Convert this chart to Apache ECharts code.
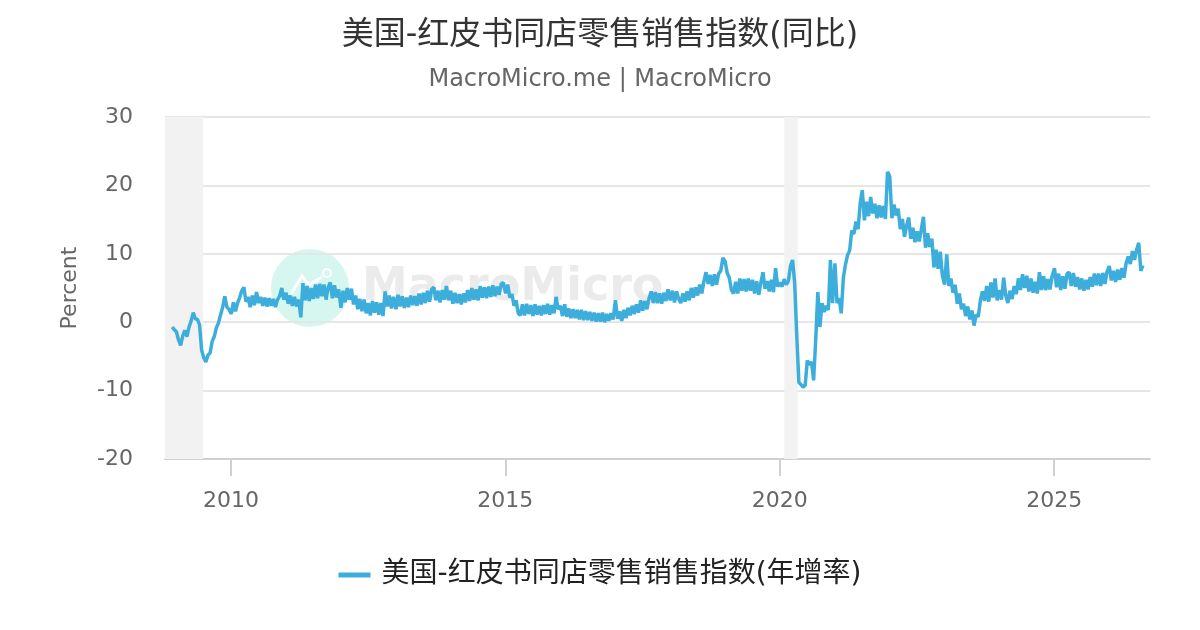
<!DOCTYPE html>
<html>
<head>
<meta charset="utf-8">
<script src="https://cdn.jsdelivr.net/npm/echarts@6.0.0/dist/echarts.min.js"></script>
<style>
html,body{margin:0;padding:0;background:#fff;}
#chart{width:1200px;height:630px;}
</style>
</head>
<body>
<div id="chart"></div>
<script>
// ---- Data (biweekly readings, YoY %) ----
const titleText = '美国-红皮书同店零售销售指数(同比)';
const subtitleText = 'MacroMicro.me | MacroMicro';
const seriesName = '美国-红皮书同店零售销售指数(年增率)';
const yTicks = [-20, -10, 0, 10, 20, 30];
const xTickYears = [2010, 2015, 2020, 2025];

const v2008 = [-0.7, -1.1];
const v2009 = [-1.4, -2.6, -3.4, -2.0, -1.2, -2.1, -0.7, 0.2, 1.4, 0.5, 0.4, -0.4, -4.1, -5.2, -5.8, -4.8, -4.5, -2.8, -2.1, -0.8, -0.1, 1.1, 2.2, 3.8, 2.2, 1.9];
const v2010 = [1.2, 2.9, 1.6, 2.8, 3.6, 4.6, 5.1, 3.0, 3.7, 2.2, 3.9, 2.5, 4.4, 2.8, 3.7, 2.4, 3.6, 2.3, 3.5, 2.4, 3.4, 2.2, 3.3, 3.8, 5.0, 3.3];
const v2011 = [4.3, 2.7, 3.9, 2.4, 3.7, 2.3, 3.3, 0.7, 5.7, 3.2, 5.3, 3.1, 5.0, 3.4, 5.5, 3.5, 5.6, 3.8, 5.5, 3.3, 5.1, 5.8, 3.5, 5.4, 3.6, 4.8];
const v2012 = [2.1, 4.6, 2.9, 5.0, 3.3, 4.9, 2.6, 3.9, 1.9, 3.4, 1.6, 3.3, 1.3, 2.8, 1.0, 3.1, 1.4, 2.9, 1.1, 2.8, 0.9, 4.5, 2.3, 3.9, 2.0, 3.7];
const v2013 = [1.9, 4.0, 2.3, 3.8, 2.1, 3.6, 2.2, 3.9, 2.5, 3.8, 2.4, 4.2, 2.6, 4.3, 2.8, 4.6, 3.0, 4.8, 5.1, 3.2, 4.6, 2.9, 4.7, 3.3, 5.3, 3.2];
const v2014 = [4.6, 2.7, 4.3, 2.8, 4.1, 2.6, 4.2, 2.9, 4.7, 3.1, 5.0, 3.3, 4.8, 3.2, 5.3, 3.6, 5.1, 3.5, 5.2, 3.7, 5.4, 3.8, 5.2, 4.0, 5.6, 5.8];
const v2015 = [4.2, 5.5, 3.6, 4.1, 2.4, 3.2, 1.3, 1.0, 2.6, 1.0, 2.7, 1.2, 2.5, 0.9, 2.6, 1.1, 2.4, 1.0, 2.5, 1.2, 2.7, 1.1, 2.5, 1.3, 3.7, 1.9];
const v2016 = [2.4, 0.9, 2.6, 0.8, 2.0, 0.6, 1.9, 0.6, 1.8, 0.4, 1.8, 0.3, 1.6, 0.3, 1.5, 0.2, 1.4, 0.1, 1.3, 0.1, 1.4, 0.0, 1.2, 0.2, 1.3, 0.4];
const v2017 = [3.2, 0.5, 1.6, 0.2, 1.8, 0.6, 2.1, 1.0, 2.4, 1.2, 2.6, 1.4, 3.2, 1.7, 3.1, 1.9, 3.5, 4.5, 2.8, 4.4, 2.8, 4.2, 2.7, 4.3, 3.1, 4.8];
const v2018 = [3.2, 4.6, 2.9, 4.5, 3.4, 2.8, 4.2, 3.0, 4.5, 3.2, 5.0, 3.6, 5.1, 3.9, 5.5, 4.2, 6.0, 7.3, 5.6, 6.9, 5.3, 7.0, 5.5, 7.1, 7.5, 9.4];
const v2019 = [8.9, 7.2, 6.5, 4.7, 4.2, 5.9, 4.2, 6.4, 4.6, 6.3, 4.5, 6.4, 4.6, 6.2, 4.2, 6.0, 4.0, 5.8, 7.3, 4.9, 6.0, 4.5, 6.2, 4.4, 7.9, 5.2];
const v2020 = [5.8, 5.2, 6.3, 5.5, 6.0, 8.2, 9.1, 5.7, -2.0, -8.8, -9.1, -9.5, -9.2, -5.6, -6.2, -5.8, -8.5, -2.6, 4.4, -0.7, 2.8, 1.5, 2.4, 1.8, 9.1, 2.8];
const v2021 = [8.6, 2.8, 3.5, 1.3, 6.5, 8.4, 9.8, 10.5, 13.4, 12.9, 14.7, 13.6, 17.4, 19.3, 14.9, 17.6, 15.5, 18.3, 15.9, 17.3, 15.2, 17.1, 15.3, 17.0, 15.1, 22.0];
const v2022 = [21.3, 15.2, 17.2, 15.6, 16.6, 13.6, 15.1, 12.5, 14.1, 15.3, 12.2, 13.8, 11.7, 13.3, 11.8, 13.6, 15.4, 10.9, 13.0, 11.0, 12.2, 8.0, 10.6, 7.8, 10.3, 6.8];
const v2023 = [5.5, 9.9, 5.3, 6.4, 4.3, 5.5, 2.7, 4.2, 1.9, 2.7, 0.9, 2.3, 0.4, 1.7, -0.5, 1.1, 0.8, 3.2, 4.5, 3.1, 5.3, 3.0, 5.8, 3.6, 6.4, 3.2];
const v2024 = [4.7, 3.3, 6.5, 3.9, 2.8, 4.6, 3.4, 5.3, 4.1, 6.4, 4.7, 7.0, 5.0, 6.8, 4.5, 6.4, 4.3, 5.9, 4.2, 7.3, 4.7, 6.7, 4.7, 6.3, 4.8, 6.7];
const v2025 = [7.9, 5.1, 7.1, 4.7, 6.7, 4.9, 7.1, 7.3, 5.3, 7.2, 5.2, 6.6, 4.8, 6.4, 4.6, 6.2, 4.8, 6.6, 5.2, 7.1, 5.4, 7.1, 5.3, 7.2, 5.6, 7.4];
const v2026 = [8.2, 6.1, 7.5, 5.9, 7.7, 6.2, 7.9, 6.5, 8.6, 9.6, 8.5, 10.4, 9.1, 10.6, 11.6, 7.5, 8.3];

// each segment: [first reading date (y, m, d), values], readings every 14 days
const segments = [
  [[2008, 11, 6], v2008], [[2009, 0, 3], v2009], [[2010, 0, 3], v2010], [[2011, 0, 3], v2011],
  [[2012, 0, 3], v2012], [[2013, 0, 3], v2013], [[2014, 0, 3], v2014], [[2015, 0, 3], v2015],
  [[2016, 0, 3], v2016], [[2017, 0, 3], v2017], [[2018, 0, 3], v2018], [[2019, 0, 3], v2019],
  [[2020, 0, 3], v2020], [[2021, 0, 3], v2021], [[2022, 0, 3], v2022], [[2023, 0, 3], v2023],
  [[2024, 0, 3], v2024], [[2025, 0, 3], v2025], [[2026, 0, 3], v2026]
];
// recession periods
const recessions = [[[2008, 9, 19], [2009, 5, 30]], [[2020, 1, 1], [2020, 3, 30]]];

const lineData = [];
segments.forEach(([d, vals]) => {
  vals.forEach((v, i) => {
    lineData.push([new Date(d[0], d[1], d[2] + 14 * i).getTime(), v]);
  });
});
const ts = a => new Date(a[0], a[1], a[2]).getTime();
const xMin = ts([2008, 9, 19]);
const xMax = ts([2026, 9, 1]);
const xTickValues = xTickYears.map(y => ts([y, 0, 1]));

const chart = echarts.init(document.getElementById('chart'));
const FONT = 'DejaVu Sans, Noto Sans CJK SC, sans-serif';
chart.setOption({
  animation: false,
  backgroundColor: '#fff',
  textStyle: { fontFamily: FONT },
  title: [
    { text: titleText, left: 'center', top: 15, textStyle: { fontSize: 32, fontWeight: 'normal', color: '#333', fontFamily: FONT } },
    { text: subtitleText, left: 'center', top: 63, textStyle: { fontSize: 24, fontWeight: 'normal', color: '#666', fontFamily: FONT } }
  ],
  legend: {
    data: [seriesName],
    left: 'center',
    top: 556,
    icon: 'rect',
    itemWidth: 32,
    itemHeight: 5,
    textStyle: { fontSize: 28, color: '#222', fontFamily: FONT, padding: [0, 0, 0, 6] }
  },
  grid: { left: 165, right: 50, top: 117, bottom: 171, containLabel: false },
  graphic: [
    { type: 'circle', z: 0, silent: true, shape: { cx: 310, cy: 288, r: 39 }, style: { fill: '#d6f6f0' } },
    { type: 'polyline', z: 0, silent: true, shape: { points: [[291, 294], [302, 276], [309, 285], [322, 277]] }, style: { stroke: '#fff', lineWidth: 3, fill: null } },
    { type: 'circle', z: 0, silent: true, shape: { cx: 327, cy: 273, r: 4 }, style: { stroke: '#fff', lineWidth: 2, fill: '#d6f6f0' } },
    { type: 'text', z: 0, silent: true, x: 362, y: 288, style: { text: 'MacroMicro', font: 'bold 46px DejaVu Sans', fill: '#ebebeb', verticalAlign: 'middle', align: 'left' } }
  ],
  xAxis: {
    type: 'value',
    min: xMin,
    max: xMax,
    axisLine: { show: true, onZero: false, lineStyle: { color: '#d0d0d0', width: 2 } },
    axisTick: { show: true, length: 17, lineStyle: { color: '#d0d0d0', width: 2 }, customValues: xTickValues },
    axisLabel: {
      customValues: xTickValues,
      fontSize: 22, color: '#666', margin: 31,
      formatter: v => String(new Date(v).getFullYear())
    },
    splitLine: { show: false }
  },
  yAxis: {
    type: 'value',
    min: yTicks[0],
    max: yTicks[yTicks.length - 1],
    interval: 10,
    name: 'Percent',
    nameLocation: 'middle',
    nameRotate: 90,
    nameGap: 84,
    nameTextStyle: { fontSize: 22, color: '#666' },
    axisLine: { show: false },
    axisTick: { show: false },
    axisLabel: { fontSize: 22, color: '#666', margin: 32, padding: [4, 0, 0, 0] },
    splitLine: { lineStyle: { color: '#e6e6e6', width: 2 } }
  },
  series: [
    {
      name: 'recession',
      type: 'line',
      data: [],
      z: 1,
      silent: true,
      markArea: {
        silent: true,
        itemStyle: { color: '#f2f2f2' },
        data: recessions.map(r => [{ xAxis: ts(r[0]) }, { xAxis: ts(r[1]) }])
      }
    },
    {
      name: seriesName,
      type: 'line',
      data: lineData,
      z: 3,
      symbol: 'none',
      showSymbol: false,
      lineStyle: { color: '#3daedb', width: 3.5 },
      itemStyle: { color: '#3daedb' }
    }
  ]
});
</script>
</body>
</html>
